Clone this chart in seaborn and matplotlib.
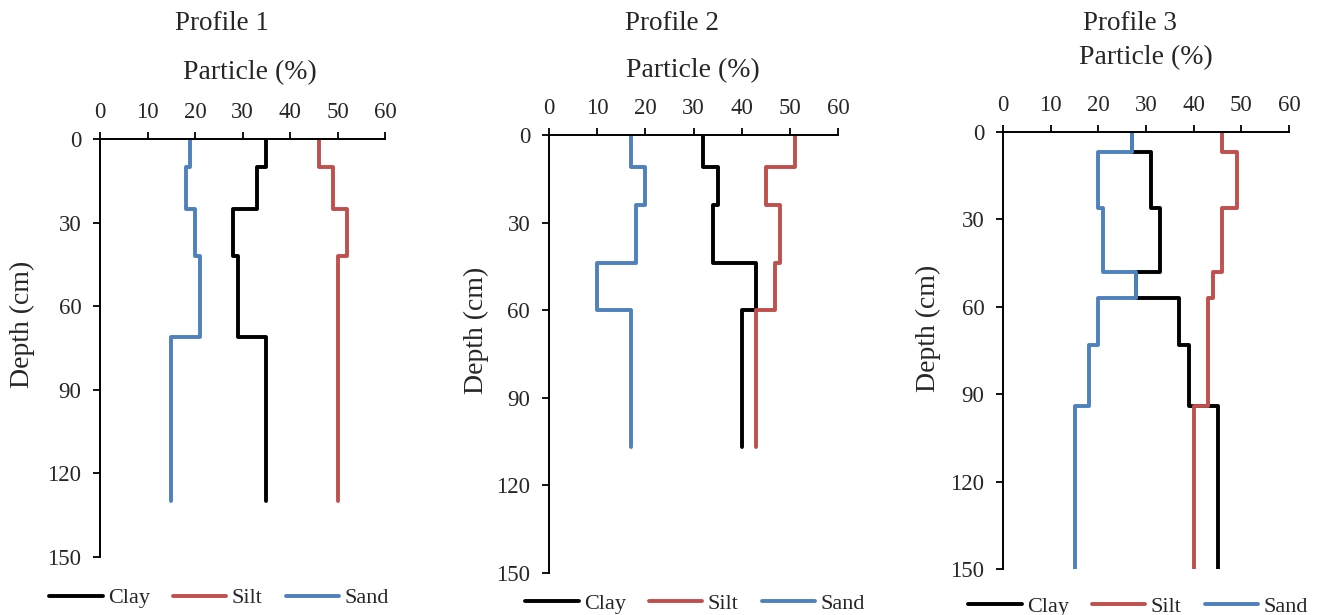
import numpy as np
import pandas as pd
import matplotlib
matplotlib.use('Agg')
import matplotlib.pyplot as plt
import seaborn as sns

# layer tops (cm), profile bottom and particle fractions (%)
tops1 = [0, 10, 25, 42, 71]
bottom1 = 130
clay1 = [35, 33, 28, 29, 35]
silt1 = [46, 49, 52, 50, 50]
sand1 = [19, 18, 20, 21, 15]

tops2 = [0, 11, 24, 44, 60]
bottom2 = 107
clay2 = [32, 35, 34, 43, 40]
silt2 = [51, 45, 48, 47, 43]
sand2 = [17, 20, 18, 10, 17]

tops3 = [0, 7, 26, 48, 57, 73, 94]
bottom3 = 150
clay3 = [27, 31, 33, 28, 37, 39, 45]
silt3 = [46, 49, 46, 44, 43, 43, 40]
sand3 = [27, 20, 21, 28, 20, 18, 15]

x_ticks = [0, 10, 20, 30, 40, 50, 60]
y_ticks = [0, 30, 60, 90, 120, 150]
components = ['Clay', 'Silt', 'Sand']
colors = {'Clay': '#000000', 'Silt': '#C0504D', 'Sand': '#4F81BD'}

sns.set_style('white')
plt.rcParams['font.family'] = ['Liberation Serif', 'DejaVu Serif']

W, H = 1317, 615
fig = plt.figure(figsize=(W / 100, H / 100), dpi=100)


def px_axes(x0, x1, y0, y1):
    return fig.add_axes([x0 / W, 1 - y1 / H, (x1 - x0) / W, (y1 - y0) / H])


def px_text(x, y, s, size, **kw):
    fig.text(x / W, 1 - y / H, s, ha='center', va='center', fontsize=size, **kw)


def step_frame(tops, bottom, vals):
    depth = np.repeat(np.append(tops, bottom), 2)[1:-1]
    return pd.DataFrame({'value': np.repeat(vals, 2), 'depth': depth})


profiles = [
    (tops1, bottom1, [clay1, silt1, sand1], (100, 385, 139, 557), (222, 23), (250, 73), (22, 324), (219, 598)),
    (tops2, bottom2, [clay2, silt2, sand2], (549, 838, 135, 573), (672, 23), (693, 71), (476, 330), (695, 604)),
    (tops3, bottom3, [clay3, silt3, sand3], (1003, 1289, 132, 569), (1130, 23), (1146, 58), (928, 328), (1138, 607)),
]

for i, (tops, bottom, series, box, tpos, xlpos, ylpos, lpos) in enumerate(profiles):
    ax = px_axes(*box)
    for name, vals in zip(components, series):
        sns.lineplot(data=step_frame(tops, bottom, vals), x='value', y='depth',
                     sort=False, estimator=None, color=colors[name],
                     linewidth=2.8, label=name, ax=ax)
    ax.set_xlim(0, 60)
    ax.set_ylim(150, 0)
    ax.set_xticks(x_ticks)
    ax.set_yticks(y_ticks)
    ax.xaxis.tick_top()
    ax.tick_params(axis='both', labelsize=16.5, length=5, width=1.3, color='black',
                   direction='out')
    ax.tick_params(axis='x', top=True, bottom=False, pad=6.5)
    ax.tick_params(axis='y', left=True, pad=8.5)
    for side in ['right', 'bottom']:
        ax.spines[side].set_visible(False)
    for side in ['left', 'top']:
        ax.spines[side].set_color('black')
        ax.spines[side].set_linewidth(1.4)
    ax.set_xlabel('')
    ax.set_ylabel('')
    ax.legend(loc='center', bbox_to_anchor=(lpos[0] / W, 1 - lpos[1] / H),
              bbox_transform=fig.transFigure, ncol=3, frameon=False,
              fontsize=16, handlelength=2.4, handletextpad=0.23, columnspacing=1.05,
              borderpad=0, borderaxespad=0)
    px_text(*tpos, f'Profile {i + 1}', 19.5)
    px_text(*xlpos, 'Particle (%)', 20)
    px_text(*ylpos, 'Depth (cm)', 20, rotation=90)

fig.savefig('out.png', dpi=100)
